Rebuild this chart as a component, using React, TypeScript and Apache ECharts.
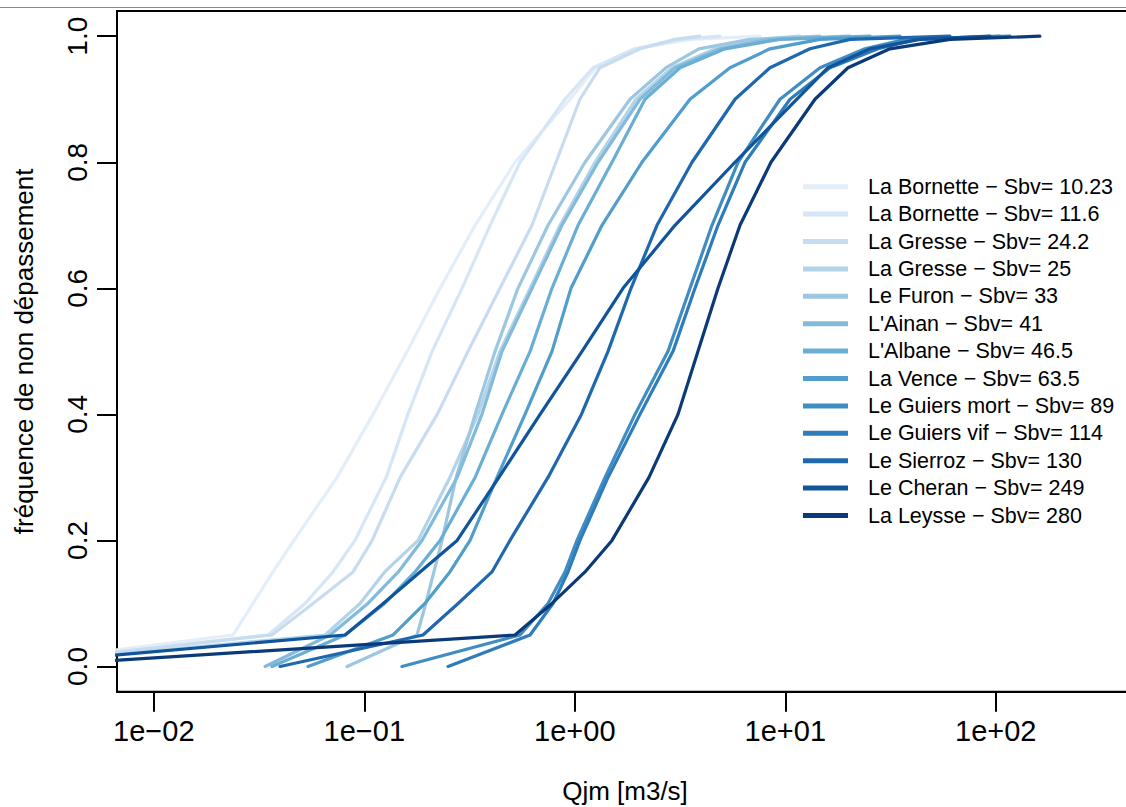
import React, { useEffect, useRef } from "react";
import * as echarts from "echarts";

// Non-exceedance probabilities shared by all curves
const P = [0, 0.05, 0.1, 0.15, 0.2, 0.3, 0.4, 0.5, 0.6, 0.7, 0.8, 0.9, 0.95, 0.98, 0.995, 1];

// Daily mean discharge quantiles (m3/s) per station
const qBornette1023 = [0.0016, 0.0238, 0.0296, 0.0368, 0.0463, 0.0742, 0.110, 0.160, 0.229, 0.336, 0.520, 0.949, 1.25, 1.93, 3.53, 7.6];
const qBornette116 = [0.0016, 0.0349, 0.0523, 0.0710, 0.0903, 0.127, 0.161, 0.210, 0.291, 0.396, 0.549, 0.898, 1.22, 1.93, 3.16, 4.9];
const qGresse242 = [0.0016, 0.0364, 0.0571, 0.0884, 0.109, 0.148, 0.222, 0.311, 0.441, 0.626, 0.814, 1.058, 1.317, 2.04, 2.99, 3.93];
const qGresse25 = [0.0016, 0.0651, 0.0954, 0.125, 0.180, 0.255, 0.347, 0.441, 0.613, 0.851, 1.247, 1.953, 2.896, 4.634, 7.58, 11.7];
const qFuron = [0.0828, 0.178, 0.196, 0.214, 0.234, 0.273, 0.336, 0.418, 0.537, 0.746, 1.118, 1.829, 2.713, 3.89, 6.80, 14.6];
const qAinan = [0.0338, 0.0687, 0.104, 0.145, 0.188, 0.276, 0.362, 0.451, 0.626, 0.869, 1.289, 2.04, 2.99, 4.90, 8.46, 20.3];
const qAlbane = [0.0364, 0.0810, 0.125, 0.174, 0.229, 0.336, 0.451, 0.613, 0.779, 1.036, 1.502, 2.155, 3.16, 5.17, 9.44, 25.3];
const qVence = [0.054, 0.137, 0.194, 0.255, 0.318, 0.427, 0.580, 0.779, 0.959, 1.346, 2.085, 3.526, 5.46, 8.46, 14.6, 35.1];
const qGuiersMort = [0.151, 0.549, 0.746, 0.898, 1.024, 1.392, 1.932, 2.772, 3.526, 4.485, 5.961, 9.437, 14.62, 23.9, 37.3, 104.7];
const qGuiersVif = [0.250, 0.613, 0.788, 0.928, 1.058, 1.438, 2.040, 2.928, 3.724, 4.789, 6.437, 10.53, 16.3, 27.6, 41.7, 116.8];
const qSierroz = [0.0398, 0.190, 0.279, 0.404, 0.492, 0.746, 1.075, 1.438, 1.849, 2.457, 3.605, 5.77, 8.46, 13.1, 20.3, 60.6];
const qCheran = [0.00156, 0.081, 0.123, 0.184, 0.276, 0.436, 0.684, 1.082, 1.694, 2.992, 5.768, 11.36, 15.95, 25.3, 43.6, 93.8];
const qLeysse = [0.00229, 0.520, 0.779, 1.118, 1.502, 2.251, 3.092, 3.848, 4.789, 6.093, 8.55, 13.84, 19.85, 31.4, 60.6, 162];

const SERIES_NAMES = [
  "La Bornette \u2212 Sbv= 10.23",
  "La Bornette \u2212 Sbv= 11.6",
  "La Gresse \u2212 Sbv= 24.2",
  "La Gresse \u2212 Sbv= 25",
  "Le Furon \u2212 Sbv= 33",
  "L'Ainan \u2212 Sbv= 41",
  "L'Albane \u2212 Sbv= 46.5",
  "La Vence \u2212 Sbv= 63.5",
  "Le Guiers mort \u2212 Sbv= 89",
  "Le Guiers vif \u2212 Sbv= 114",
  "Le Sierroz \u2212 Sbv= 130",
  "Le Cheran \u2212 Sbv= 249",
  "La Leysse \u2212 Sbv= 280",
];
const SERIES_Q = [
  qBornette1023, qBornette116, qGresse242, qGresse25, qFuron, qAinan, qAlbane,
  qVence, qGuiersMort, qGuiersVif, qSierroz, qCheran, qLeysse,
];
const COLORS = [
  "#e3eef9", "#d6e6f4", "#c8dcf0", "#b3d3e8", "#9dc7e1", "#82badb", "#6aaed6",
  "#519dcc", "#3f8dc3", "#2e7cba", "#1f68ae", "#10549c", "#0a3a78",
];

// Axis ticks: x in log10 units (decades), y in probability
const X_TICKS = [-2, -1, 0, 1, 2];
const Y_TICKS = [0, 0.2, 0.4, 0.6, 0.8, 1.0];
const X_MIN = -2.175;
const X_MAX = 2.652;
const Y_MIN = -0.04;
const Y_MAX = 1.04;

const FONT = "'Liberation Sans', Arial, Helvetica, sans-serif";

function fmtX(v: number): string {
  const e = Math.round(v);
  const sign = e < 0 ? "\u2212" : "+";
  const a = Math.abs(e);
  return "1e" + sign + (a < 10 ? "0" + a : String(a));
}

export default function App() {
  const ref = useRef<HTMLDivElement>(null);
  useEffect(() => {
    if (!ref.current) return;
    document.body.style.margin = "0";
    const chart = echarts.init(ref.current, null, { renderer: "svg" });
    const series = SERIES_Q.map((qs, i) => ({
      name: SERIES_NAMES[i],
      type: "line",
      data: qs.map((q, j) => [Math.log10(q), P[j]]),
      showSymbol: false,
      symbol: "none",
      clip: true,
      color: COLORS[i],
      lineStyle: { color: COLORS[i], width: 3.2, cap: "round", join: "round" },
      emphasis: { disabled: true },
      z: 2 + i * 0.01,
    }));
    chart.setOption({
      animation: false,
      backgroundColor: "#ffffff",
      textStyle: { fontFamily: FONT },
      grid: {
        left: 117,
        top: 11,
        width: 1016,
        height: 680.7,
        show: true,
        borderColor: "#000",
        borderWidth: 2,
        backgroundColor: "transparent",
        containLabel: false,
        outerBoundsMode: "none",
      },
      graphic: [
        {
          type: "line",
          shape: { x1: 0, y1: 7.5, x2: 1126, y2: 7.5 },
          style: { stroke: "#8a8a8a", lineWidth: 1 },
          silent: true,
        },
      ],
      legend: {
        orient: "vertical",
        left: 803,
        top: 173,
        padding: 0,
        itemGap: 0,
        itemWidth: 45,
        itemHeight: 5,
        icon: "rect",
        selectedMode: false,
        data: SERIES_NAMES,
        textStyle: {
          fontSize: 21.5,
          lineHeight: 27.4,
          color: "#000",
          fontFamily: FONT,
          padding: [0, 0, 0, 15],
        },
      },
      xAxis: {
        type: "value",
        min: X_MIN,
        max: X_MAX,
        name: "Qjm [m3/s]",
        nameLocation: "middle",
        nameGap: 86,
        nameTextStyle: { fontSize: 26, color: "#000", fontFamily: FONT },
        axisLine: { show: true, onZero: false, lineStyle: { color: "#000", width: 2 } },
        axisTick: {
          show: true,
          length: 20,
          customValues: X_TICKS,
          lineStyle: { color: "#000", width: 2 },
        },
        axisLabel: {
          customValues: X_TICKS,
          formatter: (v: number) => fmtX(v),
          fontSize: 29,
          color: "#000",
          margin: 25,
          fontFamily: FONT,
        },
        splitLine: { show: false },
      },
      yAxis: {
        type: "value",
        min: Y_MIN,
        max: Y_MAX,
        name: "fréquence de non dépassement",
        nameLocation: "middle",
        nameGap: 80,
        nameTextStyle: { fontSize: 26, color: "#000", fontFamily: FONT },
        axisLine: { show: true, onZero: false, lineStyle: { color: "#000", width: 2 } },
        axisTick: {
          show: true,
          length: 20,
          customValues: Y_TICKS,
          lineStyle: { color: "#000", width: 2 },
        },
        axisLabel: {
          customValues: Y_TICKS,
          formatter: (v: number) => v.toFixed(1),
          fontSize: 28,
          rotate: 90,
          color: "#000",
          margin: 26,
          fontFamily: FONT,
        },
        splitLine: { show: false },
      },
      tooltip: { show: false },
      series,
    });
    return () => chart.dispose();
  }, []);
  return <div ref={ref} style={{ width: 1126, height: 807, background: "#fff" }} />;
}
